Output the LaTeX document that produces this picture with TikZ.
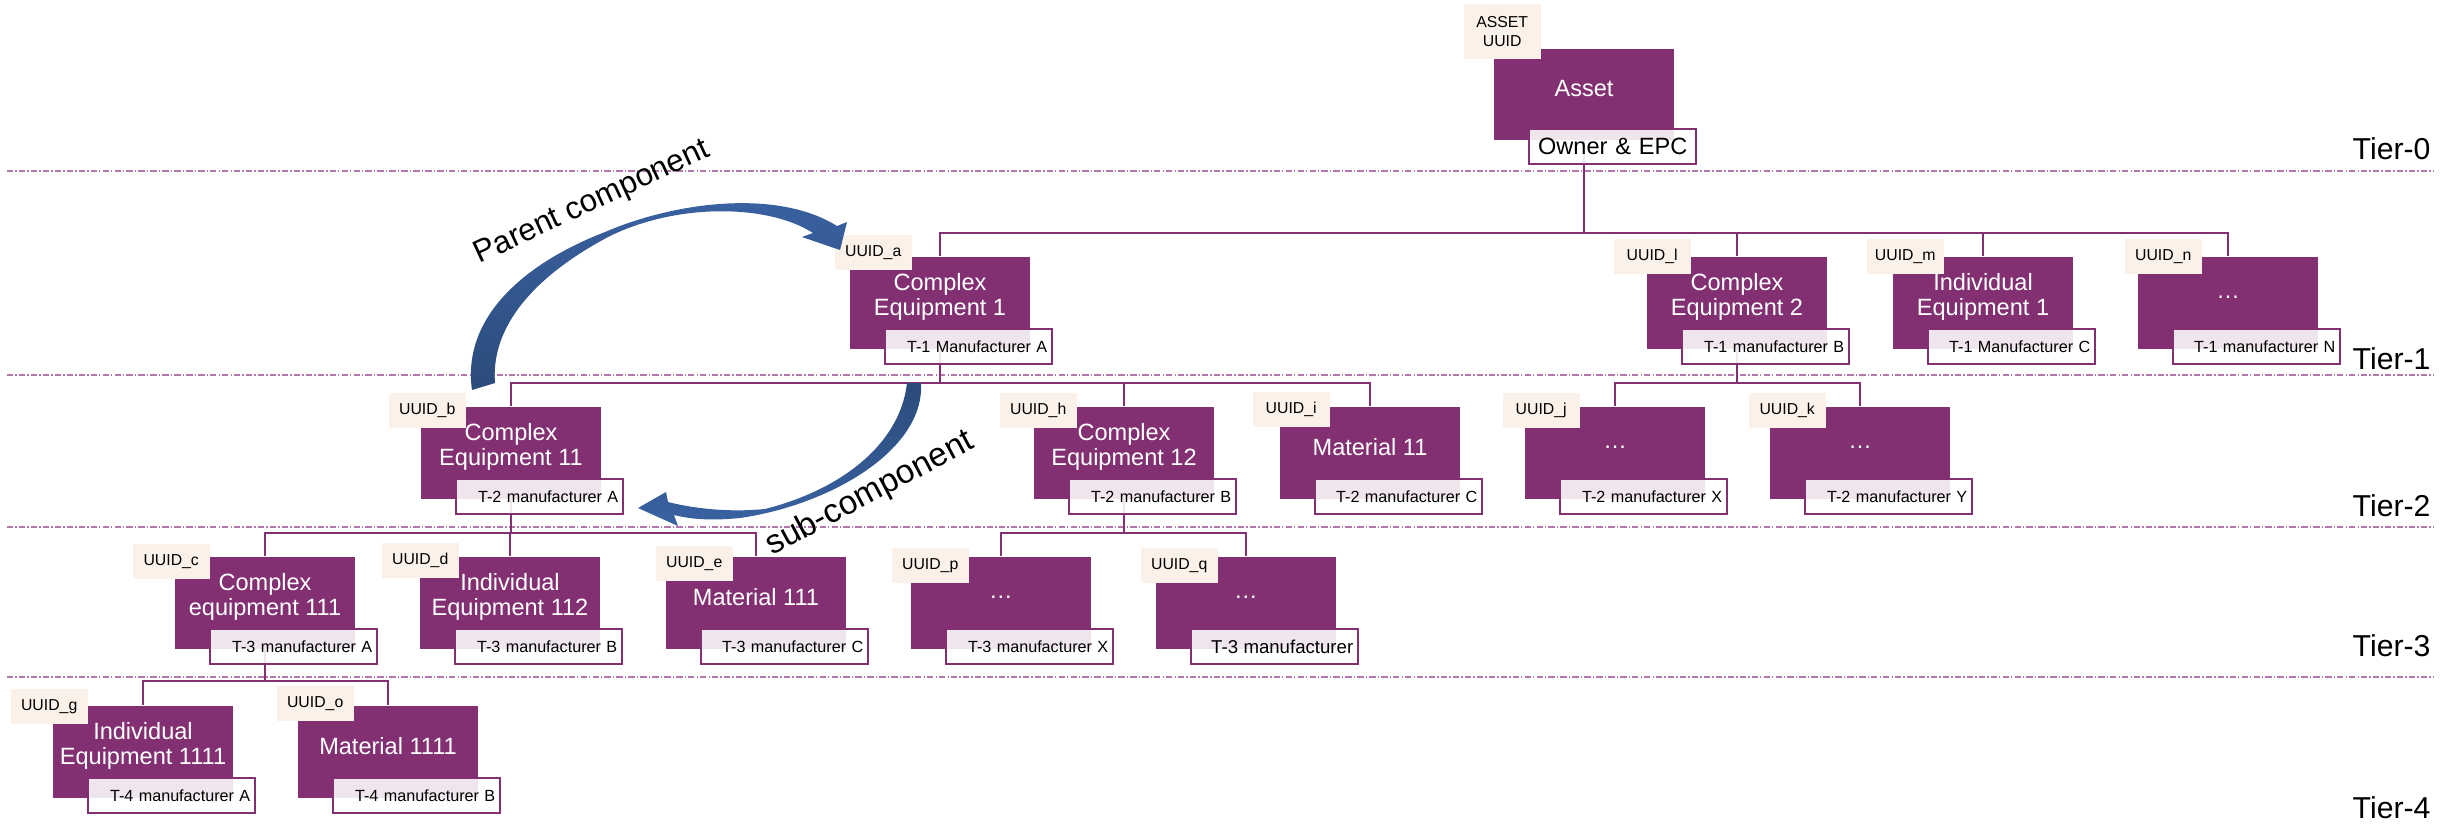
\documentclass[tikz,border=0pt]{standalone}
\usepackage{fontspec}
\setmainfont{Liberation Sans}
\usetikzlibrary{backgrounds}
\definecolor{partpurple}{RGB}{131,48,115}
\definecolor{tagcream}{RGB}{251,241,232}
\definecolor{tierpink}{RGB}{178,120,172}
\definecolor{arrowlight}{RGB}{58,98,162}
\definecolor{arrowdark}{RGB}{43,75,122}
% one part: name, left, top, tag dx, tag dy, uuid, label, maker
\newcommand{\partunit}[8]{%
  \node[part box] (#1) at (#2+90,#3+46) {};
  \node[part text] (#1-txt) at ([yshift=0.6mm]#1.center) {#7};
  \node[uuid tag] (#1-id) at (#2+#4,#3+#5) {#6};
  \node[maker box] (#1-mf) at (#2+34,#3+71) {#8};
}
\begin{document}
\begin{tikzpicture}[x=0.1mm, y=-0.1mm,
  part box/.style={rectangle, fill=partpurple, minimum width=1.8cm, minimum height=0.92cm, inner sep=0pt},
  part text/.style={text=white, align=center, inner sep=0pt, font=\fontsize{6.7}{6.9}\selectfont},
  uuid tag/.style={anchor=north west, fill=tagcream, align=center, minimum width=0.77cm, minimum height=0.35cm, inner sep=0pt, font=\fontsize{4.5}{5.4}\selectfont},
  maker box/.style={anchor=north west, draw=partpurple, line width=0.7pt, fill=white, fill opacity=0.88, text opacity=1, minimum height=0.35cm, text width=1.57cm, inner xsep=0.05cm, inner ysep=0pt, align=right, font=\fontsize{4.6}{5}\selectfont},
  link/.style={draw=partpurple, line width=0.8pt},
  tier line/.style={draw=tierpink, line width=0.35pt, dash pattern=on 1.8pt off 0.6pt on 0.4pt off 0.6pt},
  tier label/.style={anchor=west, inner sep=0pt, font=\fontsize{8.6}{10}\selectfont},
  arrow label/.style={inner sep=0pt, font=\fontsize{8.9}{10}\selectfont}]
\useasboundingbox (0,0) rectangle (2440,836);

% tier 0
\node[part box, minimum height=0.91cm] (asset) at (1584,94) {};
\node[part text] (asset-txt) at ([yshift=0.5mm]asset.center) {Asset};
\node[uuid tag, minimum height=0.55cm] (asset-id) at (1463,3) {ASSET\\UUID};
\node[maker box, align=center, font=\fontsize{6.7}{7}\selectfont] (asset-mf) at (1528,128) {Owner \& EPC};

% tier 1
\partunit{ce1}{850}{257}{-16}{-23}{UUID\_a}{Complex\\Equipment 1}{T-1 Manufacturer A}
\partunit{ce2}{1647}{257}{-34}{-19}{UUID\_l}{Complex\\Equipment 2}{T-1 manufacturer B}
\partunit{ie1}{1893}{257}{-27}{-19}{UUID\_m}{Individual\\Equipment 1}{T-1 Manufacturer C}
\partunit{dots1}{2138}{257}{-14}{-19}{UUID\_n}{…}{T-1 manufacturer N}

% tier 2
\partunit{ce11}{421}{407}{-33}{-15}{UUID\_b}{Complex\\Equipment 11}{T-2 manufacturer A}
\partunit{ce12}{1034}{407}{-35}{-15}{UUID\_h}{Complex\\Equipment 12}{T-2 manufacturer B}
\partunit{mat11}{1280}{407}{-28}{-16}{UUID\_i}{Material 11}{T-2 manufacturer C}
\partunit{dots2x}{1525}{407}{-23}{-15}{UUID\_j}{…}{T-2 manufacturer X}
\partunit{dots2y}{1770}{407}{-22}{-15}{UUID\_k}{…}{T-2 manufacturer Y}

% tier 3
\partunit{ce111}{175}{557}{-43}{-14}{UUID\_c}{Complex\\equipment 111}{T-3 manufacturer A}
\partunit{ie112}{420}{557}{-39}{-15}{UUID\_d}{Individual\\Equipment 112}{T-3 manufacturer B}
\partunit{mat111}{666}{557}{-11}{-12}{UUID\_e}{Material 111}{T-3 manufacturer C}
\partunit{dots3x}{911}{557}{-20}{-10}{UUID\_p}{…}{T-3 manufacturer X}
\partunit{dots3q}{1156}{557}{-16}{-10}{UUID\_q}{…}{\fontsize{5.3}{6}\selectfont T-3 manufacturer}

% tier 4
\partunit{ie1111}{53}{706}{-43}{-18}{UUID\_g}{Individual\\Equipment 1111}{T-4 manufacturer A}
\partunit{mat1111}{298}{706}{-22}{-21}{UUID\_o}{Material 1111}{T-4 manufacturer B}

% tier names
\node[tier label] (tier0) at (2352,149) {Tier-0};
\node[tier label] (tier1) at (2352,359) {Tier-1};
\node[tier label] (tier2) at (2352,506) {Tier-2};
\node[tier label] (tier3) at (2352,646) {Tier-3};
\node[tier label] (tier4) at (2352,808) {Tier-4};

\begin{scope}[on background layer]
\draw[tier line] (7,171) -- (2433,171);
\draw[tier line] (7,375) -- (2433,375);
\draw[tier line] (7,527) -- (2433,527);
\draw[tier line] (7,677) -- (2433,677);
\coordinate (bus0) at (0,233);
\coordinate (bus1) at (0,383);
\coordinate (bus2) at (0,533);
\coordinate (bus3) at (0,681);
\foreach \c in {ce1,ce2,ie1,dots1}
  \draw[link] (asset.center) -- (asset.center |- bus0) -| (\c.north);
\foreach \c in {ce11,ce12,mat11}
  \draw[link] (ce1.center) -- (ce1.center |- bus1) -| (\c.north);
\foreach \c in {dots2x,dots2y}
  \draw[link] (ce2.center) -- (ce2.center |- bus1) -| (\c.north);
\foreach \c in {ce111,ie112,mat111}
  \draw[link] (ce11.center) -- (ce11.center |- bus2) -| (\c.north);
\foreach \c in {dots3x,dots3q}
  \draw[link] (ce12.center) -- (ce12.center |- bus2) -| (\c.north);
\foreach \c in {ie1111,mat1111}
  \draw[link] (ce111.center) -- (ce111.center |- bus3) -| (\c.north);
\end{scope}

% parent / sub arrows
\shade[top color=arrowlight, bottom color=arrowdark]
  (472,390) .. controls (462,320) and (520,265) .. (605,232)
  .. controls (680,200) and (780,190) .. (837,226) -- (847,222) -- (840,250) -- (802,237) -- (813,233)
  .. controls (770,205) and (680,202) .. (610,236)
  .. controls (545,270) and (490,320) .. (495,383) -- cycle;
\shade[top color=arrowdark, bottom color=arrowlight]
  (907,383) -- (921,383) .. controls (925,450) and (830,505) .. (740,518)
  .. controls (710,521) and (690,519) .. (674,515) -- (678,526) -- (638,508) -- (666,492) -- (668,502)
  .. controls (700,510) and (735,512) .. (765,509)
  .. controls (840,490) and (900,445) .. (907,383) -- cycle;
\node[arrow label, rotate=25] (parentlbl) at (592,203) {Parent component};
\node[arrow label, rotate=28, font=\fontsize{9.5}{10}\selectfont] (sublbl) at (870,494) {sub-component};
\end{tikzpicture}
\end{document}
